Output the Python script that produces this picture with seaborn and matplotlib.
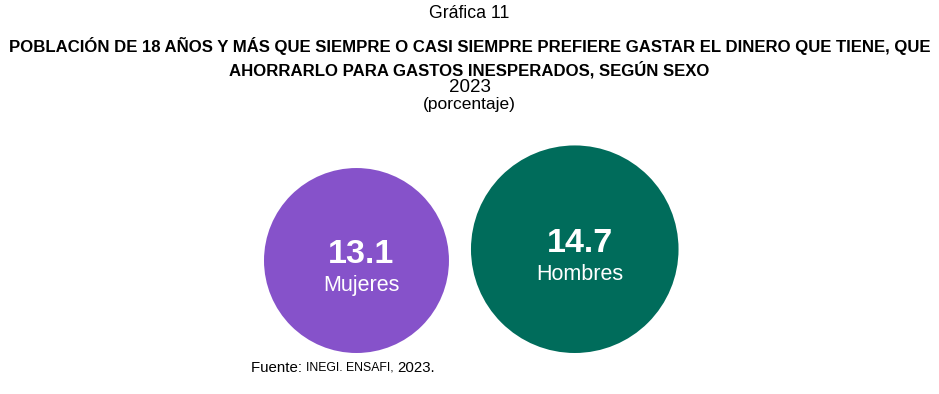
import matplotlib
matplotlib.use("Agg")
import matplotlib.pyplot as plt
import seaborn as sns
import pandas as pd

# ---- data ----
categorias = ["Mujeres", "Hombres"]
valores = [13.1, 14.7]
colores = ["#8652CA", "#006C5B"]

titulo = "Gráfica 11"
subtitulo_l1 = "POBLACIÓN DE 18 AÑOS Y MÁS QUE SIEMPRE O CASI SIEMPRE PREFIERE GASTAR EL DINERO QUE TIENE, QUE"
subtitulo_l2 = "AHORRARLO PARA GASTOS INESPERADOS, SEGÚN SEXO"
anio = "2023"
unidad = "(porcentaje)"

sns.set_theme(style="white")
plt.rcParams['font.family'] = ['Liberation Sans', 'DejaVu Sans']

W, H, DPI = 939, 394, 100
fig = plt.figure(figsize=(W / DPI, H / DPI), dpi=DPI)
ax = fig.add_axes([0, 0, 1, 1])

# layout: radius proportional to value, bottoms aligned, fixed gap
escala = 7.06      # px per percentage point
x0 = 264           # left edge of first circle
gap = 22
base = 353         # common bottom
radios = [v * escala for v in valores]
xs, ys = [], []
cur = x0
for r in radios:
    xs.append(cur + r)
    ys.append(base - r)
    cur += 2 * r + gap

df = pd.DataFrame({"sexo": categorias, "valor": valores, "x": xs, "y": ys, "r": radios})
sizes = {c: (2 * r * 72 / DPI) ** 2 for c, r in zip(categorias, radios)}
sns.scatterplot(data=df, x="x", y="y", hue="sexo", size="sexo", sizes=sizes,
                palette=dict(zip(categorias, colores)), linewidth=0, legend=False,
                ax=ax, alpha=1)
ax.set_xlim(0, W)
ax.set_ylim(H, 0)
ax.axis("off")

for _, row in df.iterrows():
    ax.text(row.x + 5, row.y - 6, f"{row.valor:.1f}", color="white", fontsize=24.5,
            fontweight="heavy", ha="center", va="center")
    ax.text(row.x + 5, row.y + 25, row.sexo, color="white", fontsize=15.5,
            ha="center", va="center")

# titles
def fy(py):
    return 1 - py / H

fig.text(0.5, fy(14), titulo, ha="center", va="center", fontsize=12.7, color="black")
fig.text(0.5, fy(46), subtitulo_l1, ha="center", va="center", fontsize=12.05,
         fontweight="bold", color="black")
fig.text(0.5, fy(70), subtitulo_l2, ha="center", va="center", fontsize=12.05,
         fontweight="bold", color="black")
fig.text(0.5, fy(87), anio, ha="center", va="center", fontsize=13.5, color="black")
fig.text(0.5, fy(105), unidad, ha="center", va="center", fontsize=12.5, color="black")

# source line with mixed sizes
fig.canvas.draw()
renderer = fig.canvas.get_renderer()
xpos = 251
yfu = fy(368)
for txt, fs in [("Fuente: ", 10.8), ("INEGI. ENSAFI, ", 8.8), ("2023.", 10.8)]:
    t = fig.text(xpos / W, yfu, txt, ha="left", va="center", fontsize=fs, color="black")
    bb = t.get_window_extent(renderer=renderer)
    xpos += bb.width

fig.savefig("out.png", dpi=DPI)
